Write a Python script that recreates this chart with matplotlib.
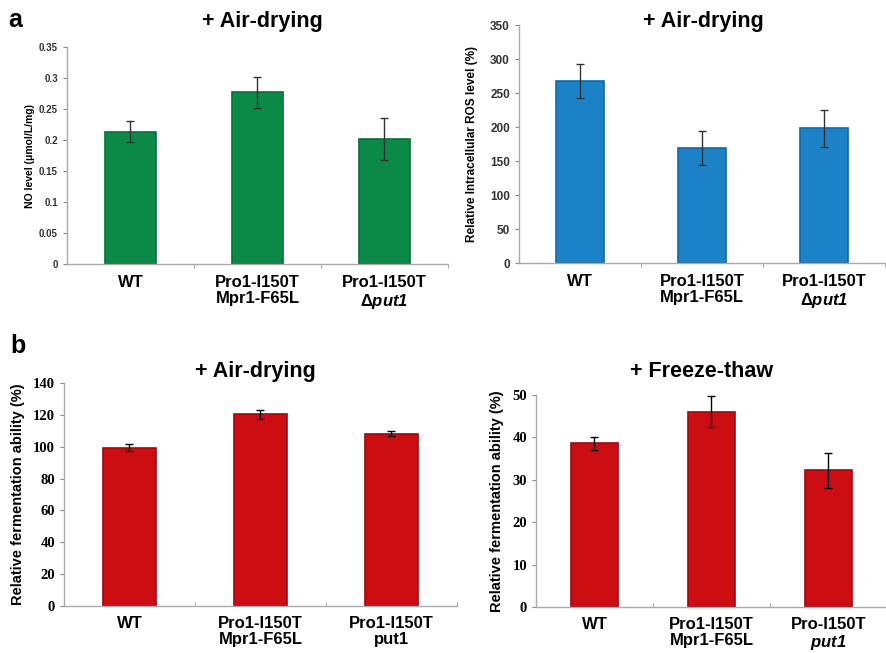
import numpy as np
import matplotlib
matplotlib.use("Agg")
import matplotlib.pyplot as plt

plt.rcParams['font.family'] = ['Liberation Sans', 'DejaVu Sans']
plt.rcParams['mathtext.fontset'] = 'custom'
plt.rcParams['mathtext.rm'] = 'Liberation Sans:bold'
plt.rcParams['mathtext.bf'] = 'Liberation Sans:bold'
plt.rcParams['mathtext.bfit'] = 'Liberation Sans:italic:bold'

# panel a, NO level
no_labels = ['WT', 'Pro1-I150T\nMpr1-F65L', 'Pro1-I150T\nΔ$\\mathbfit{put1}$']
no_vals = [0.213, 0.277, 0.202]
no_err = [0.017, 0.025, 0.034]

# panel a, ROS level
ros_labels = ['WT', 'Pro1-I150T\nMpr1-F65L', 'Pro1-I150T\nΔ$\\mathbfit{put1}$']
ros_vals = [268, 169, 198]
ros_err = [25, 25, 27]

# panel b, air-drying fermentation
air_labels = ['WT', 'Pro1-I150T\nMpr1-F65L', 'Pro1-I150T\nput1']
air_vals = [99.5, 120.3, 108.2]
air_err = [2.0, 3.0, 1.6]

# panel b, freeze-thaw fermentation
ft_labels = ['WT', 'Pro1-I150T\nMpr1-F65L', 'Pro-I150T\n$\\mathbfit{put1}$']
ft_vals = [38.6, 46.1, 32.2]
ft_err = [1.5, 3.7, 4.2]

W, H = 887, 653
fig = plt.figure(figsize=(W / 100, H / 100), dpi=100)


def px_axes(x0, x1, ytop, ybot):
    return fig.add_axes([x0 / W, 1 - ybot / H, (x1 - x0) / W, (ybot - ytop) / H])


def bar_panel(ax, labels, vals, err, face, edge, ecol, ylim, yticks, fmt,
              tickfont, ticksize, tickcol, ylabel, ylsize, ylx, xtick_dir, xpad):
    x = np.arange(len(vals))
    ax.bar(x, vals, width=0.4, color=face, edgecolor=edge, linewidth=1.2, zorder=2)
    ax.errorbar(x, vals, yerr=err, fmt='none', ecolor=ecol, elinewidth=1,
                capsize=3, capthick=1, zorder=3)
    ax.set_xlim(-0.5, len(vals) - 0.5)
    ax.set_ylim(*ylim)
    ax.set_yticks(yticks)
    ax.set_yticklabels([fmt(v) for v in yticks], fontfamily=tickfont,
                       fontsize=ticksize, fontweight='bold', color=tickcol)
    ax.set_xticks(x)
    ax.set_xticklabels(labels, fontsize=12, fontweight='bold', linespacing=1.1)
    ax.set_xticks([0.5, 1.5, 2.5], minor=True)
    ax.tick_params(axis='x', which='major', length=0, pad=xpad)
    ax.tick_params(axis='x', which='minor', length=3, direction=xtick_dir, color='#999999')
    ax.tick_params(axis='y', length=3, color='#888888', width=0.8)
    for s in ['top', 'right']:
        ax.spines[s].set_visible(False)
    for s in ['left', 'bottom']:
        ax.spines[s].set_color('#aaaaaa')
        ax.spines[s].set_linewidth(1)
    ax.set_ylabel(ylabel, fontsize=ylsize, fontweight='bold')
    ax.yaxis.set_label_coords(ylx, 0.5)


green = '#0b8a47'
blue = '#1b82c7'
red = '#cc0e13'

ax1 = px_axes(67, 448, 47, 264)
bar_panel(ax1, no_labels, no_vals, no_err, green, '#06703a', '#333333',
          (0, 0.35), [0, 0.05, 0.1, 0.15, 0.2, 0.25, 0.3, 0.35],
          lambda v: '0' if v == 0 else ('%g' % v), 'Liberation Sans', 7, '#333333',
          'NO level (μmol/L/mg)', 7.5, -0.085, 'out', 8)

ax2 = px_axes(519, 885, 25, 263)
bar_panel(ax2, ros_labels, ros_vals, ros_err, blue, '#1468a3', '#333333',
          (0, 350), [0, 50, 100, 150, 200, 250, 300, 350],
          lambda v: '%d' % v, 'Liberation Sans', 8.5, '#333333',
          'Relative Intracellular ROS level (%)', 8.5, -0.112, 'out', 8)

ax3 = px_axes(64, 457, 383, 606)
bar_panel(ax3, air_labels, air_vals, air_err, red, '#9c0a0e', 'black',
          (0, 140), [0, 20, 40, 60, 80, 100, 120, 140],
          lambda v: '%d' % v, 'Liberation Serif', 10.5, 'black',
          'Relative fermentation ability (%)', 10.5, -0.1, 'in', 7)

ax4 = px_axes(536, 887, 395, 607)
bar_panel(ax4, ft_labels, ft_vals, ft_err, red, '#9c0a0e', 'black',
          (0, 50), [0, 10, 20, 30, 40, 50],
          lambda v: '%d' % v, 'Liberation Serif', 10.5, 'black',
          'Relative fermentation ability (%)', 10.5, -0.09, 'in', 7)


def ftext(xp, yp, s, **kw):
    fig.text(xp / W, 1 - yp / H, s, **kw)


ftext(8, 27, 'a', fontsize=18, fontweight='bold', ha='left', va='baseline')
ftext(10, 353, 'b', fontsize=18, fontweight='bold', ha='left', va='baseline')
ftext(262, 27, '+ Air-drying', fontsize=15.5, fontweight='bold', ha='center', va='baseline')
ftext(703, 27, '+ Air-drying', fontsize=15.5, fontweight='bold', ha='center', va='baseline')
ftext(255, 377, '+ Air-drying', fontsize=15.5, fontweight='bold', ha='center', va='baseline')
ftext(702, 377, '+ Freeze-thaw', fontsize=15.5, fontweight='bold', ha='center', va='baseline')

fig.savefig('out.png', dpi=100)
